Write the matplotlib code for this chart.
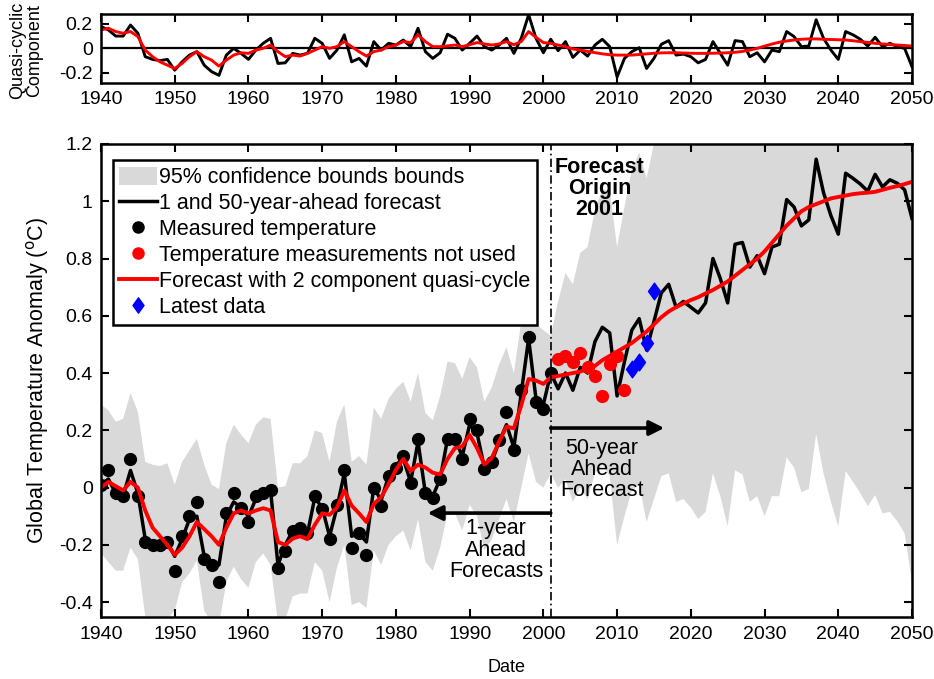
import numpy as np
import matplotlib
matplotlib.use('Agg')
import matplotlib.pyplot as plt
from matplotlib.patches import Patch
from matplotlib.lines import Line2D
from matplotlib.path import Path

plt.rcParams['font.family'] = ['Liberation Sans', 'DejaVu Sans']

# ---------------- data ----------------
years = np.arange(1940, 2051)

fc_black = [
    0.01, 0.03, -0.02, -0.03, 0.06, -0.02, -0.18, -0.19, -0.20, -0.19,
    -0.24, -0.18, -0.11, -0.10, -0.24, -0.26, -0.27, -0.10, -0.05, -0.07,
    -0.10, -0.04, -0.03, -0.01, -0.27, -0.20, -0.15, -0.15, -0.16, -0.035,
    -0.07, -0.17, -0.07, 0.05, -0.17, -0.16, -0.19, 0.00, -0.045, 0.04,
    0.08, 0.10, 0.02, 0.16, -0.02, -0.03, 0.03, 0.17, 0.17, 0.11,
    0.22, 0.19, 0.07, 0.09, 0.16, 0.22, 0.14, 0.33, 0.52, 0.31,
    0.29, 0.40, 0.345, 0.40, 0.34, 0.42, 0.40, 0.51, 0.56, 0.54,
    0.32, 0.44, 0.55, 0.59, 0.48, 0.58, 0.68, 0.71, 0.63, 0.65,
    0.63, 0.61, 0.645, 0.80, 0.73, 0.645, 0.85, 0.856, 0.77, 0.81,
    0.747, 0.84, 0.85, 1.006, 0.98, 0.914, 0.935, 1.147, 1.03, 0.95,
    0.885, 1.098, 1.08, 1.06, 1.035, 1.094, 1.05, 1.075, 1.063, 1.04,
    0.94]

fc_red = [
    0.0, 0.02, 0.005, -0.01, 0.02, 0.0, -0.08, -0.14, -0.17, -0.20,
    -0.235, -0.21, -0.17, -0.12, -0.145, -0.17, -0.20, -0.14, -0.09, -0.08,
    -0.09, -0.08, -0.072, -0.08, -0.19, -0.20, -0.178, -0.17, -0.18, -0.13,
    -0.09, -0.095, -0.07, -0.01, -0.063, -0.09, -0.12, -0.057, -0.034, 0.012,
    0.062, 0.10, 0.058, 0.08, 0.07, 0.052, 0.046, 0.10, 0.138, 0.144,
    0.184, 0.138, 0.081, 0.103, 0.161, 0.213, 0.207, 0.287, 0.379, 0.374,
    0.362, 0.385, 0.39, 0.395, 0.40, 0.405, 0.415, 0.425, 0.445, 0.46,
    0.475, 0.49, 0.505, 0.525, 0.545, 0.57, 0.595, 0.615, 0.63, 0.643,
    0.655, 0.665, 0.678, 0.69, 0.705, 0.72, 0.74, 0.76, 0.78, 0.80,
    0.825, 0.855, 0.885, 0.915, 0.94, 0.965, 0.98, 0.99, 1.0, 1.01,
    1.015, 1.02, 1.025, 1.028, 1.03, 1.033, 1.04, 1.047, 1.053, 1.06,
    1.068]

band_upper = [
    0.29, 0.27, 0.23, 0.24, 0.33, 0.265, 0.09, 0.08, 0.075, 0.085,
    0.01, 0.09, 0.13, 0.17, 0.08, 0.01, -0.005, 0.155, 0.22, 0.185,
    0.155, 0.22, 0.245, 0.24, 0.0, 0.005, 0.085, 0.085, 0.11, 0.20,
    0.19, 0.09, 0.23, 0.29, 0.09, 0.11, 0.08, 0.28, 0.24, 0.31,
    0.345, 0.37, 0.30, 0.40, 0.26, 0.235, 0.32, 0.44, 0.435, 0.38,
    0.455, 0.42, 0.30, 0.35, 0.43, 0.49, 0.40, 0.58, 0.78, 0.57,
    0.55, 0.53, 0.65, 0.75, 0.71, 0.82, 0.84, 0.97, 1.04, 1.04,
    0.84, 0.98, 1.11, 1.17, 1.08, 1.20, 1.32, 1.37, 1.31, 1.34,
    1.33, 1.33, 1.37, 1.55, 1.49, 1.42, 1.64, 1.66, 1.59, 1.65,
    1.60, 1.71, 1.73, 1.90, 1.89, 1.84, 1.87, 2.10, 2.00, 1.95,
    1.90, 2.13, 2.14, 2.14, 2.13, 2.21, 2.19, 2.23, 2.24, 2.24,
    2.21]

band_lower = [
    -0.23, -0.26, -0.29, -0.29, -0.21, -0.25, -0.45, -0.47, -0.47, -0.46,
    -0.43, -0.33, -0.30, -0.255, -0.43, -0.47, -0.48, -0.33, -0.276, -0.32,
    -0.35, -0.26, -0.23, -0.27, -0.47, -0.46, -0.38, -0.37, -0.37, -0.26,
    -0.29, -0.40, -0.28, -0.20, -0.41, -0.40, -0.42, -0.22, -0.27, -0.20,
    -0.17, -0.15, -0.22, -0.11, -0.26, -0.29, -0.21, -0.09, -0.09, -0.15,
    -0.06, -0.10, -0.22, -0.18, -0.11, -0.04, -0.12, 0.00, 0.12, 0.02,
    0.00, 0.05, 0.00, 0.03, -0.05, 0.00, -0.04, 0.05, 0.08, 0.04,
    -0.20, -0.10, -0.01, 0.01, -0.12, -0.04, 0.04, 0.05, -0.05, -0.04,
    -0.07, -0.11, -0.085, 0.05, -0.03, -0.135, 0.06, 0.046, -0.05, -0.03,
    -0.10, -0.03, -0.03, 0.106, 0.07, -0.016, -0.005, 0.187, 0.05, -0.05,
    -0.135, 0.058, 0.02, -0.02, -0.065, -0.026, -0.09, -0.085, -0.117, -0.16,
    -0.33]

meas_years = np.arange(1940, 2002)
meas_temp = [
    0.01, 0.06, -0.02, -0.03, 0.10, -0.03, -0.19, -0.20, -0.20, -0.19,
    -0.29, -0.17, -0.10, -0.05, -0.25, -0.27, -0.33, -0.09, -0.02, -0.07,
    -0.12, -0.03, -0.02, -0.01, -0.28, -0.22, -0.15, -0.14, -0.16, -0.03,
    -0.075, -0.18, -0.06, 0.06, -0.21, -0.16, -0.235, 0.00, -0.065, 0.04,
    0.07, 0.11, 0.015, 0.17, -0.02, -0.035, 0.03, 0.17, 0.17, 0.10,
    0.24, 0.20, 0.065, 0.09, 0.165, 0.265, 0.13, 0.34, 0.525, 0.30,
    0.275, 0.40]

unused_years = np.arange(2002, 2012)
unused_temp = [0.45, 0.46, 0.44, 0.47, 0.42, 0.39, 0.32, 0.43, 0.46, 0.34]

latest_years = [2012, 2013, 2014, 2015]
latest_temp = [0.414, 0.439, 0.506, 0.686]

qc_black = [
    0.178, 0.15, 0.10, 0.10, 0.19, 0.123, -0.068, -0.09, -0.10, -0.09,
    -0.178, -0.11, -0.055, -0.027, -0.137, -0.19, -0.22, -0.055, 0.0, -0.041,
    -0.09, -0.014, 0.041, 0.082, -0.123, -0.118, -0.041, -0.055, -0.041, 0.082,
    0.041, -0.082, -0.014, 0.11, -0.11, -0.082, -0.145, 0.055, -0.014, 0.041,
    0.027, 0.068, 0.014, 0.164, -0.027, -0.082, -0.036, 0.115, 0.082, -0.014,
    0.041, 0.10, 0.014, -0.014, 0.027, 0.082, -0.041, 0.082, 0.274, 0.082,
    -0.036, 0.074, -0.019, 0.055, -0.074, -0.014, -0.063, 0.027, 0.074, 0.014,
    -0.233, -0.082, -0.027, 0.005, -0.164, -0.082, 0.033, 0.063, -0.055, -0.047,
    -0.068, -0.118, -0.09, 0.055, -0.041, -0.137, 0.063, 0.055, -0.068, -0.036,
    -0.11, -0.014, -0.027, 0.137, 0.096, 0.014, 0.019, 0.233, 0.082, -0.014,
    -0.09, 0.137, 0.11, 0.074, 0.019, 0.09, 0.014, 0.041, 0.014, 0.0,
    -0.15]

qc_red = [
    0.15, 0.164, 0.137, 0.123, 0.137, 0.096, -0.014, -0.068, -0.11, -0.137,
    -0.164, -0.123, -0.068, -0.027, -0.068, -0.096, -0.145, -0.096, -0.055, -0.036,
    -0.041, -0.014, 0.0, 0.027, -0.027, -0.068, -0.055, -0.063, -0.041, -0.014,
    0.014, 0.0, 0.014, 0.055, 0.014, -0.027, -0.063, -0.027, -0.014, 0.014,
    0.027, 0.055, 0.047, 0.11, 0.055, 0.014, 0.014, 0.02, 0.027, 0.014,
    0.03, 0.047, 0.036, 0.027, 0.036, 0.055, 0.03, 0.055, 0.137, 0.09,
    0.047, 0.041, 0.027, 0.014, -0.005, -0.014, -0.025, -0.035, -0.045, -0.052,
    -0.055, -0.055, -0.055, -0.05, -0.045, -0.04, -0.037, -0.036, -0.036, -0.038,
    -0.04, -0.041, -0.041, -0.04, -0.038, -0.036, -0.032, -0.025, -0.014, 0.0,
    0.018, 0.035, 0.05, 0.06, 0.068, 0.074, 0.077, 0.077, 0.074, 0.072,
    0.07, 0.068, 0.062, 0.055, 0.048, 0.041, 0.036, 0.031, 0.027, 0.023,
    0.019]

x_ticks = list(range(1940, 2051, 10))
main_yticks = [-0.4, -0.2, 0, 0.2, 0.4, 0.6, 0.8, 1.0, 1.2]
main_yticklabels = ['-0.4', '-0.2', '0', '0.2', '0.4', '0.6', '0.8', '1', '1.2']
qc_yticks = [-0.2, 0, 0.2]
qc_yticklabels = ['-0.2', '0', '0.2']

legend_labels = ['95% confidence bounds bounds', '1 and 50-year-ahead forecast',
                 'Measured temperature', 'Temperature measurements not used',
                 'Forecast with 2 component quasi-cycle', 'Latest data']

# ---------------- figure ----------------
W, H = 934, 679
fig = plt.figure(figsize=(W / 100, H / 100), dpi=100)

def frac(l, t, r, b):
    return [l / W, 1 - b / H, (r - l) / W, (b - t) / H]

ax_top = fig.add_axes(frac(101, 14, 912, 82.7))
ax = fig.add_axes(frac(101, 144, 912, 617.3))

BAND = '#d9d9d9'
TICKFS = 14
TXTFS = 15.5

# MATLAB-like diamond (taller than wide)
diamond = Path([(0, 1), (0.72, 0), (0, -1), (-0.72, 0), (0, 1)],
               [Path.MOVETO, Path.LINETO, Path.LINETO, Path.LINETO, Path.CLOSEPOLY])

# ---- top panel ----
ax_top.axhline(0, color='k', lw=1.6, zorder=1)
ax_top.plot(years, qc_black, color='k', lw=2.1, zorder=2)
ax_top.plot(years, qc_red, color='#ff0000', lw=2.1, zorder=3)
ax_top.set_xlim(1940, 2050)
ax_top.set_ylim(-0.28, 0.28)
ax_top.set_xticks(x_ticks)
ax_top.set_yticks(qc_yticks)
ax_top.set_yticklabels(qc_yticklabels)
ax_top.set_ylabel('Quasi-cyclic\nComponent', fontsize=13, linespacing=1.0)
ax_top.yaxis.set_label_coords(-0.0715, 0.47)

# ---- main panel ----
ax.fill_between(years, band_lower, band_upper, color=BAND, lw=0, zorder=1)
ax.plot(years, fc_black, color='k', lw=2.5, zorder=2)
ax.plot(meas_years, meas_temp, ls='none', marker='o', ms=8.5, color='k', zorder=3)
ax.plot(years, fc_red, color='#ff0000', lw=2.8, zorder=4)
ax.plot(unused_years, unused_temp, ls='none', marker='o', ms=8.5, color='#ff0000', zorder=5)
ax.plot(latest_years, latest_temp, ls='none', marker=diamond, ms=12, color='#0000ff', zorder=6)

ax.axvline(2001, color='k', lw=1.2, ls=(0, (5, 2, 1, 2)), zorder=7)

ax.set_xlim(1940, 2050)
ax.set_ylim(-0.453, 1.2)
ax.set_xticks(x_ticks)
ax.set_yticks(main_yticks)
ax.set_yticklabels(main_yticklabels)
ax.set_xlabel('Date', fontsize=13, labelpad=12)
ax.set_ylabel('Global Temperature Anomaly ($^{\\mathrm{o}}$C)', fontsize=15.5, labelpad=6)

# arrows & annotations
ax.annotate('', xy=(2016.4, 0.208), xytext=(2001, 0.208),
            arrowprops=dict(arrowstyle='-|>', lw=2.6, color='k', mutation_scale=22,
                            shrinkA=0, shrinkB=0), zorder=8)
ax.annotate('', xy=(1984.3, -0.089), xytext=(2001, -0.089),
            arrowprops=dict(arrowstyle='-|>', lw=2.6, color='k', mutation_scale=22,
                            shrinkA=0, shrinkB=0), zorder=8)
ax.text(2007.9, 0.063, '50-year\nAhead\nForecast', ha='center', va='center',
        fontsize=TXTFS, linespacing=1.02, zorder=9)
ax.text(1993.6, -0.218, '1-year\nAhead\nForecasts', ha='center', va='center',
        fontsize=TXTFS, linespacing=1.02, zorder=9)
ax.text(2007.6, 1.045, 'Forecast\nOrigin\n2001', ha='center', va='center',
        fontsize=TXTFS, fontweight='bold', linespacing=1.02, zorder=9)

handles = [
    Patch(facecolor=BAND, edgecolor='none'),
    Line2D([], [], color='k', lw=2.5),
    Line2D([], [], ls='none', marker='o', ms=8, color='k'),
    Line2D([], [], ls='none', marker='o', ms=8, color='#ff0000'),
    Line2D([], [], color='#ff0000', lw=2.8),
    Line2D([], [], ls='none', marker=diamond, ms=11, color='#0000ff'),
]
leg = ax.legend(handles, legend_labels, loc='upper left',
                bbox_to_anchor=(0.0148, 0.966), borderaxespad=0,
                fontsize=TXTFS, frameon=True, fancybox=False, framealpha=1,
                edgecolor='k', handlelength=1.75, handleheight=0.95,
                handletextpad=0.08, labelspacing=0.2, borderpad=0.3)
leg.get_frame().set_linewidth(1.8)
leg.set_zorder(10)

for a in (ax_top, ax):
    for s in a.spines.values():
        s.set_linewidth(1.8)
        s.set_zorder(11)
    a.tick_params(direction='in', top=True, right=True, labelsize=TICKFS,
                  length=6, width=1.5, pad=6)

fig.savefig('out.png', dpi=100)
